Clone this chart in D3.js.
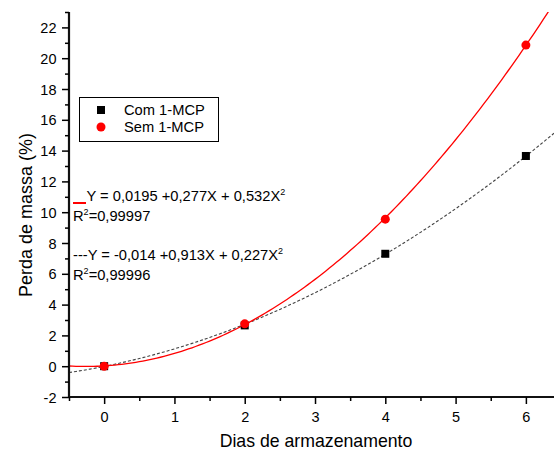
<!DOCTYPE html>
<html><head><meta charset="utf-8">
<script src="https://cdn.jsdelivr.net/npm/d3@7"></script>
<style>body{margin:0;background:#fff}svg{display:block}text{font-family:"Liberation Sans",Arial,sans-serif}</style>
</head><body>
<script>
const days = [0, 2, 4, 6];
const comMCP = [0.0, 2.65, 7.3, 13.65];
const semMCP = [0.0, 2.75, 9.55, 20.85];
const semCoef = [0.0195, 0.277, 0.532];
const comCoef = [-0.014, 0.913, 0.227];
const yTicks = [-2, 0, 2, 4, 6, 8, 10, 12, 14, 16, 18, 20, 22];
const xTicks = [0, 1, 2, 3, 4, 5, 6];

const W = 554, H = 450;
const svg = d3.select("body").append("svg").attr("width", W).attr("height", H);
const x = d3.scaleLinear().domain([-0.5, 6.4]).range([69, 554]);
const y = d3.scaleLinear().domain([-2, 23]).range([397, 12]);

svg.append("defs").append("clipPath").attr("id","c").append("rect")
  .attr("x", 69).attr("y", 12).attr("width", 485).attr("height", 385);

// fitted curves from the equations shown in the chart
const xs = d3.range(-0.5, 6.4001, 0.05);
const poly = c => v => c[0] + c[1]*v + c[2]*v*v;
const line = d3.line().x(d => x(d[0])).y(d => y(d[1]));
const g = svg.append("g").attr("clip-path","url(#c)");
g.append("path").attr("d", line(xs.map(v => [v, poly(comCoef)(v)])))
  .attr("fill","none").attr("stroke","#444").attr("stroke-width",1.1).attr("stroke-dasharray","3,2");
g.append("path").attr("d", line(xs.map(v => [v, poly(semCoef)(v)])))
  .attr("fill","none").attr("stroke","#ff0000").attr("stroke-width",1.3);

// markers
svg.selectAll(".sq").data(days).enter().append("rect")
  .attr("x", (d,i) => x(d) - 4).attr("y", (d,i) => y(comMCP[i]) - 4)
  .attr("width", 8).attr("height", 8).attr("fill", "#000");
svg.selectAll(".ci").data(days).enter().append("circle")
  .attr("cx", d => x(d)).attr("cy", (d,i) => y(semMCP[i])).attr("r", 4.5).attr("fill", "#ff0000");

// axes
const ya = svg.append("g").attr("transform","translate(69,0)");
ya.call(d3.axisLeft(y).tickValues(d3.range(-2, 23.01, 1)).tickSize(4).tickFormat(""));
ya.selectAll(".tick").filter(d => yTicks.includes(d)).select("line").attr("x2", -7);
ya.selectAll(".tick").filter(d => yTicks.includes(d)).append("text")
  .attr("x", -12.5).attr("dy","0.35em").attr("text-anchor","end").attr("fill","#000")
  .style("font-size","14.5px").text(d => d);
ya.select(".domain").attr("d","M0,12V397");

const xa = svg.append("g").attr("transform","translate(0,397)");
xa.call(d3.axisBottom(x).tickValues(d3.range(-0.5, 6.41, 0.5)).tickSize(4).tickFormat(""));
xa.selectAll(".tick").filter(d => xTicks.includes(d)).select("line").attr("y2", 7);
xa.selectAll(".tick").filter(d => xTicks.includes(d)).append("text")
  .attr("y", 25).attr("text-anchor","middle").attr("fill","#000")
  .style("font-size","14.5px").text(d => d);
xa.select(".domain").attr("d","M69,0H554");
svg.selectAll(".domain").attr("stroke","#111").attr("stroke-width",2.2);
svg.selectAll(".tick line").attr("stroke","#000").attr("stroke-width",1.5);

// titles
svg.append("text").attr("x", 316).attr("y", 447).attr("text-anchor","middle")
  .style("font-size","17.7px").text("Dias de armazenamento");
svg.append("text").attr("transform","translate(31.5,215) rotate(-90)").attr("text-anchor","middle")
  .style("font-size","18px").text("Perda de massa (%)");

// legend
svg.append("rect").attr("x",79.5).attr("y",97.5).attr("width",139).attr("height",44)
  .attr("fill","#fff").attr("stroke","#000").attr("stroke-width",1);
svg.append("rect").attr("x",97).attr("y",106).attr("width",8).attr("height",8).attr("fill","#000");
svg.append("circle").attr("cx",101).attr("cy",127).attr("r",4.5).attr("fill","#ff0000");
svg.append("text").attr("x",124).attr("y",115).style("font-size","14.7px").text("Com 1-MCP");
svg.append("text").attr("x",124).attr("y",132).style("font-size","14.7px").text("Sem 1-MCP");

// equations
svg.append("line").attr("x1",73).attr("x2",86).attr("y1",203).attr("y2",203).attr("stroke","#ff0000").attr("stroke-width",2);
const eq1 = svg.append("text").attr("x",86.5).attr("y",201).style("font-size","14.7px");
eq1.append("tspan").text("Y = 0,0195 +0,277X + 0,532X");
eq1.append("tspan").attr("dy",-6).style("font-size","9px").text("2");
const r1 = svg.append("text").attr("x",73).attr("y",221).style("font-size","14.7px");
r1.append("tspan").text("R");
r1.append("tspan").attr("dy",-6).style("font-size","9px").text("2");
r1.append("tspan").attr("dy",6).text("=0,99997");

const eq2 = svg.append("text").attr("x",73).attr("y",260).style("font-size","14.7px");
eq2.append("tspan").text("---Y = -0,014 +0,913X + 0,227X");
eq2.append("tspan").attr("dy",-6).style("font-size","9px").text("2");
const r2 = svg.append("text").attr("x",73).attr("y",280).style("font-size","14.7px");
r2.append("tspan").text("R");
r2.append("tspan").attr("dy",-6).style("font-size","9px").text("2");
r2.append("tspan").attr("dy",6).text("=0,99996");
</script>
</body></html>
